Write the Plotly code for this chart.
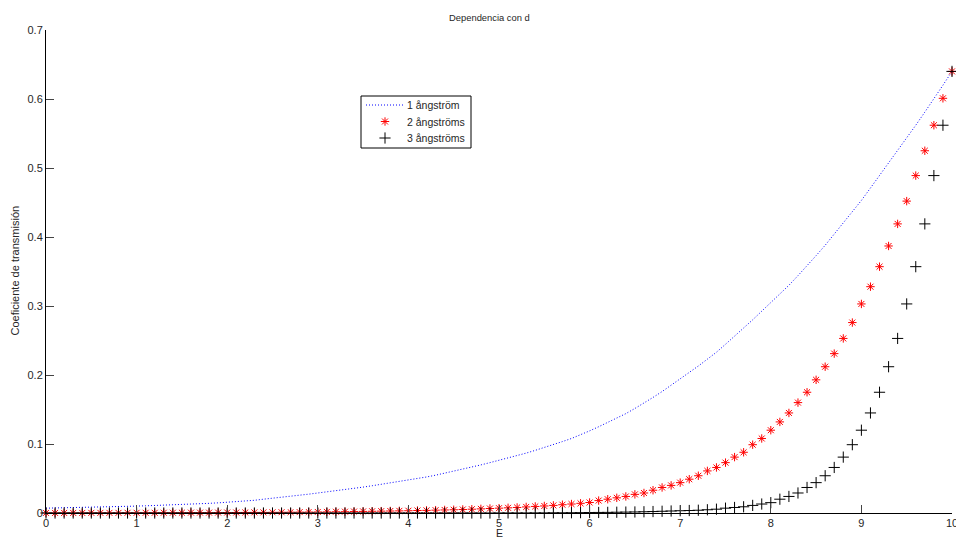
import plotly.graph_objects as go

# Energy grid (eV) and transmission coefficients for three barrier widths
energy = [round(0.1 * i, 1) for i in range(101)]

t_1A = [
    0.0070, 0.0072, 0.0075, 0.0077, 0.0080, 0.0083, 0.0086, 0.0089, 0.0092, 0.0096,
    0.0100, 0.0104, 0.0108, 0.0113, 0.0118, 0.0123, 0.0128, 0.0134, 0.0140, 0.0147,
    0.0155, 0.0163, 0.0175, 0.0184, 0.0200, 0.0213, 0.0225, 0.0240, 0.0258, 0.0273,
    0.0290, 0.0305, 0.0320, 0.0338, 0.0356, 0.0375, 0.0395, 0.0415, 0.0437, 0.0458,
    0.0480, 0.0500, 0.0522, 0.0548, 0.0576, 0.0605, 0.0635, 0.0665, 0.0697, 0.0730,
    0.0762, 0.0795, 0.0830, 0.0868, 0.0908, 0.0948, 0.0990, 0.1035, 0.1080, 0.1130,
    0.1190, 0.1250, 0.1310, 0.1375, 0.1440, 0.1515, 0.1590, 0.1675, 0.1760, 0.1850,
    0.1940, 0.2035, 0.2130, 0.2230, 0.2330, 0.2445, 0.2560, 0.2680, 0.2800, 0.2925,
    0.3050, 0.3175, 0.3300, 0.3440, 0.3580, 0.3730, 0.3880, 0.4040, 0.4200, 0.4365,
    0.4530, 0.4710, 0.4890, 0.5070, 0.5250, 0.5435, 0.5620, 0.5810, 0.6000, 0.6200,
    0.6400,
]

t_2A = [
    0.0001, 0.0001, 0.0001, 0.0001, 0.0001, 0.0002, 0.0002, 0.0002, 0.0002, 0.0003,
    0.0003, 0.0003, 0.0003, 0.0004, 0.0004, 0.0004, 0.0005, 0.0005, 0.0005, 0.0006,
    0.0007, 0.0007, 0.0008, 0.0009, 0.0009, 0.0010, 0.0011, 0.0012, 0.0013, 0.0014,
    0.0015, 0.0016, 0.0018, 0.0019, 0.0021, 0.0023, 0.0025, 0.0027, 0.0029, 0.0031,
    0.0033, 0.0036, 0.0038, 0.0041, 0.0044, 0.0047, 0.0051, 0.0055, 0.0060, 0.0065,
    0.0070, 0.0075, 0.0080, 0.0088, 0.0095, 0.0102, 0.0110, 0.0120, 0.0130, 0.0140,
    0.0152, 0.0180, 0.0200, 0.0220, 0.0240, 0.0270, 0.0290, 0.0330, 0.0370, 0.0400,
    0.0440, 0.0490, 0.0540, 0.0610, 0.0660, 0.0730, 0.0810, 0.0880, 0.0990, 0.1080,
    0.1200, 0.1320, 0.1450, 0.1600, 0.1750, 0.1930, 0.2120, 0.2310, 0.2530, 0.2760,
    0.3030, 0.3280, 0.3570, 0.3870, 0.4190, 0.4520, 0.4890, 0.5250, 0.5620, 0.6010,
    0.6400,
]

t_3A = [
    0.0000, 0.0000, 0.0000, 0.0000, 0.0000, 0.0000, 0.0000, 0.0000, 0.0000, 0.0000,
    0.0000, 0.0000, 0.0000, 0.0000, 0.0000, 0.0000, 0.0000, 0.0000, 0.0000, 0.0000,
    0.0000, 0.0000, 0.0000, 0.0000, 0.0000, 0.0000, 0.0000, 0.0000, 0.0000, 0.0000,
    0.0000, 0.0000, 0.0000, 0.0000, 0.0000, 0.0000, 0.0000, 0.0000, 0.0000, 0.0000,
    0.0000, 0.0000, 0.0000, 0.0000, 0.0000, 0.0000, 0.0000, 0.0000, 0.0000, 0.0000,
    0.0001, 0.0001, 0.0001, 0.0001, 0.0002, 0.0002, 0.0003, 0.0003, 0.0004, 0.0005,
    0.0007, 0.0008, 0.0009, 0.0011, 0.0013, 0.0015, 0.0018, 0.0021, 0.0025, 0.0029,
    0.0033, 0.0036, 0.0040, 0.0047, 0.0055, 0.0070, 0.0080, 0.0090, 0.0110, 0.0130,
    0.0150, 0.0200, 0.0240, 0.0290, 0.0370, 0.0440, 0.0540, 0.0660, 0.0810, 0.0990,
    0.1200, 0.1450, 0.1750, 0.2120, 0.2530, 0.3030, 0.3570, 0.4190, 0.4890, 0.5620,
    0.6400,
]

series_names = ["1 ångström", "2 ångströms", "3 ångströms"]
x_ticks = list(range(0, 11))
y_ticks = [0, 0.1, 0.2, 0.3, 0.4, 0.5, 0.6, 0.7]
y_tick_text = ["0", "0.1", "0.2", "0.3", "0.4", "0.5", "0.6", "0.7"]

FONT = "Liberation Sans, Arial, Helvetica, sans-serif"
TXT = "#262626"
BLUE, RED, BLACK = "#0000ff", "#ff0000", "#000000"
DOTS = "1px,2px"

RED_MARKER = dict(symbol="asterisk-open", size=7, color=RED, line=dict(color=RED, width=1))
BLACK_MARKER = dict(symbol="cross-thin-open", size=8, color=BLACK, line=dict(color=BLACK, width=1))

fig = go.Figure()

fig.add_trace(go.Scatter(
    x=energy, y=t_1A, name=series_names[0], mode="lines",
    line=dict(color=BLUE, width=1, dash=DOTS), cliponaxis=False,
))
fig.add_trace(go.Scatter(
    x=energy, y=t_2A, name=series_names[1], mode="markers",
    marker=RED_MARKER, cliponaxis=False,
))
fig.add_trace(go.Scatter(
    x=energy, y=t_3A, name=series_names[2], mode="markers",
    marker=BLACK_MARKER, cliponaxis=False,
))

# Legend box drawn on a hidden pixel-scaled overlay axis pair
LEG_X0, LEG_X1, LEG_Y0, LEG_Y1 = 361, 471, 96, 148
row_y = [105, 121.5, 138]
sample_x0, sample_x1, text_x = 366, 404, 405
sample_mid = (sample_x0 + sample_x1) / 2

fig.add_trace(go.Scatter(
    x=[sample_mid], y=[row_y[1]], xaxis="x2", yaxis="y2", mode="markers",
    marker=RED_MARKER, hoverinfo="skip", cliponaxis=False,
))
fig.add_trace(go.Scatter(
    x=[sample_mid], y=[row_y[2]], xaxis="x2", yaxis="y2", mode="markers",
    marker=BLACK_MARKER, hoverinfo="skip", cliponaxis=False,
))

shapes = [
    dict(type="rect", xref="x2", yref="y2", x0=LEG_X0, x1=LEG_X1, y0=LEG_Y0, y1=LEG_Y1,
         line=dict(color=BLACK, width=1), fillcolor="#ffffff", layer="below"),
    dict(type="line", xref="x2", yref="y2", x0=sample_x0, x1=sample_x1,
         y0=row_y[0], y1=row_y[0], line=dict(color=BLUE, width=1, dash=DOTS)),
]

legend_labels = [
    dict(text=name, xref="x2", yref="y2", x=text_x, y=yy, showarrow=False,
         xanchor="left", yanchor="middle",
         font=dict(family=FONT, size=10.5, color=TXT))
    for name, yy in zip(series_names, row_y)
]

axis_common = dict(
    showgrid=False, zeroline=False, showline=True, linecolor=BLACK, linewidth=1,
    ticks="inside", ticklen=8, tickwidth=1, tickcolor="#444444",
    tickfont=dict(family=FONT, size=11, color=TXT), mirror=False,
    ticklabeloverflow="allow", automargin=False,
)

fig.update_xaxes(range=[0, 10], tickvals=x_ticks, **axis_common)
fig.update_yaxes(range=[0, 0.7], tickvals=y_ticks, ticktext=y_tick_text, **axis_common)

fig.update_layout(
    width=956, height=539,
    margin=dict(l=46, r=4, t=30, b=26),
    paper_bgcolor="#ffffff", plot_bgcolor="rgba(0,0,0,0)",
    font=dict(family=FONT, size=11, color=TXT),
    showlegend=False,
    xaxis2=dict(overlaying="x", range=[46, 952], visible=False, fixedrange=True),
    yaxis2=dict(overlaying="y", range=[513, 30], visible=False, fixedrange=True),
    shapes=shapes,
    annotations=legend_labels + [
        dict(text="Dependencia con d", xref="paper", yref="paper",
             x=0.489, y=1, yshift=13, showarrow=False,
             xanchor="center", yanchor="middle",
             font=dict(family=FONT, size=9.4, color=TXT)),
        dict(text="Coeficiente de transmisión", xref="paper", yref="paper",
             x=0, xshift=-32, y=0.5, yshift=1, textangle=-90, showarrow=False,
             xanchor="center", yanchor="middle",
             font=dict(family=FONT, size=11, color=TXT)),
        dict(text="E", xref="paper", yref="paper",
             x=0.5, y=0, yshift=-20, showarrow=False,
             xanchor="center", yanchor="middle",
             font=dict(family=FONT, size=10.5, color=TXT)),
    ],
)

fig.write_html("out.html")
